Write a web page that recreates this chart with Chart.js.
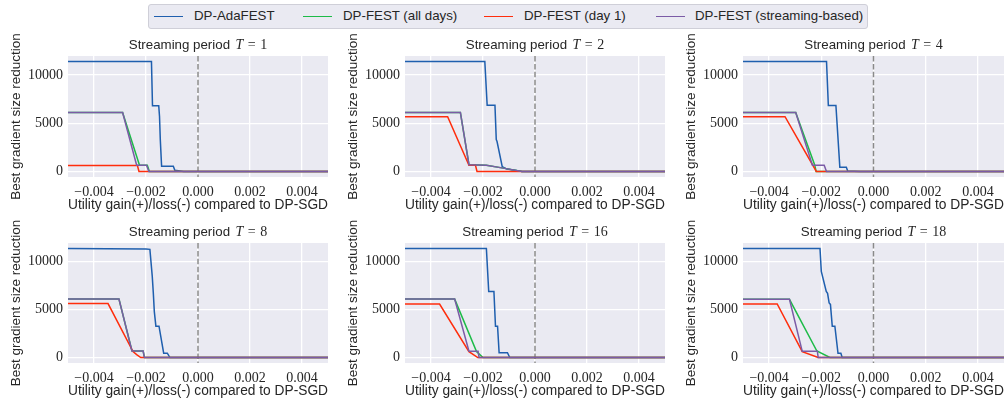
<!DOCTYPE html>
<html>
<head>
<meta charset="utf-8">
<script src="https://cdn.jsdelivr.net/npm/chart.js@4.4.1/dist/chart.umd.min.js"></script>
<style>
body { margin: 0; background: #fff; width: 1006px; height: 403px; position: relative; overflow: hidden; font-family: "Liberation Sans", Arial, sans-serif; }
canvas { position: absolute; }
#legend { position: absolute; left: 148px; top: 4px; width: 720px; height: 25px; background: #eaeaf2; border: 1px solid #cfcfd8; border-radius: 3px; box-sizing: border-box; }
.sw { position: absolute; top: 11px; width: 29px; height: 0; border-top: 1.5px solid; }
.lb { position: absolute; top: 3px; font-size: 13.3px; line-height: 16px; color: #262626; white-space: nowrap; }
</style>
</head>
<body>
<div id="legend"></div>
<script>
// streaming periods, one panel each
var periods = [1, 2, 4, 8, 16, 18];
var seriesNames = ['DP-AdaFEST', 'DP-FEST (all days)', 'DP-FEST (day 1)', 'DP-FEST (streaming-based)'];
var seriesColors = ['#1f5fae', '#1dbb48', '#ff2d0c', '#7b5ba6'];
var xTicks = [-0.004, -0.002, 0, 0.002, 0.004];
var yTicks = [0, 5000, 10000];
var xLabel = 'Utility gain(+)/loss(-) compared to DP-SGD';
var yLabel = 'Best gradient size reduction';

// [utility gain, best gradient size reduction] per period
var adaFest = [
  [[-0.005,11390],[-0.00179,11390],[-0.00175,6800],[-0.00151,6800],[-0.00148,5700],[-0.00145,3300],[-0.0014,550],[-0.00095,550],[-0.00089,120],[-0.00055,0],[0.005,0]],
  [[-0.005,11390],[-0.00193,11390],[-0.00184,6850],[-0.00154,6850],[-0.00149,3300],[-0.00146,3100],[-0.00126,500],[-0.00108,250],[-0.0005,0],[0.005,0]],
  [[-0.005,11390],[-0.0018,11390],[-0.00173,6830],[-0.00144,6830],[-0.00129,450],[-0.00104,450],[-0.00099,60],[-0.0005,0],[0.005,0]],
  [[-0.005,11390],[-0.002,11340],[-0.00185,11300],[-0.00176,8500],[-0.00172,6800],[-0.00168,4800],[-0.00162,3280],[-0.0015,3280],[-0.00132,450],[-0.00118,450],[-0.00108,0],[0.005,0]],
  [[-0.005,11390],[-0.00187,11390],[-0.00178,6900],[-0.00158,6900],[-0.00152,3280],[-0.00144,3280],[-0.00138,500],[-0.00106,500],[-0.00097,0],[0.005,0]],
  [[-0.005,11390],[-0.00205,11390],[-0.002,9000],[-0.00181,6900],[-0.00176,6700],[-0.0017,5700],[-0.00165,5550],[-0.00158,3280],[-0.00148,3280],[-0.00136,450],[-0.00125,450],[-0.0012,0],[0.005,0]]
];
var allDays = [
  [[-0.005,6110],[-0.0029,6110],[-0.00225,650],[-0.00195,650],[-0.00187,0],[0.005,0]],
  [[-0.005,6110],[-0.00287,6110],[-0.00254,700],[-0.00187,650],[-0.00122,350],[-0.0005,0],[0.005,0]],
  [[-0.005,6110],[-0.00298,6110],[-0.00225,650],[-0.0022,0],[0.005,0]],
  [[-0.005,6110],[-0.00304,6110],[-0.00254,680],[-0.00211,680],[-0.00206,0],[0.005,0]],
  [[-0.005,6100],[-0.00309,6100],[-0.00225,620],[-0.002,0],[0.005,0]],
  [[-0.005,6080],[-0.00322,6080],[-0.00217,680],[-0.00167,0],[0.005,0]]
];
var dayOne = [
  [[-0.005,625],[-0.00233,625],[-0.00227,0],[0.005,0]],
  [[-0.005,5680],[-0.00336,5680],[-0.00254,650],[-0.00229,650],[-0.00223,0],[0.005,0]],
  [[-0.005,5680],[-0.00339,5680],[-0.00219,0],[0.005,0]],
  [[-0.005,5630],[-0.00346,5630],[-0.0025,620],[-0.00236,300],[-0.0022,0],[0.005,0]],
  [[-0.005,5590],[-0.00367,5590],[-0.00254,620],[-0.0022,0],[0.005,0]],
  [[-0.005,5590],[-0.00369,5590],[-0.00273,620],[-0.00212,0],[0.005,0]]
];
var streaming = [
  [[-0.005,6110],[-0.0029,6110],[-0.00236,650],[-0.00198,650],[-0.00189,0],[0.005,0]],
  [[-0.005,6110],[-0.00287,6110],[-0.00254,700],[-0.00187,650],[-0.00122,350],[-0.0005,0],[0.005,0]],
  [[-0.005,6110],[-0.00298,6110],[-0.00234,650],[-0.00189,650],[-0.0018,0],[0.005,0]],
  [[-0.005,6110],[-0.00304,6110],[-0.00254,680],[-0.00211,680],[-0.00206,0],[0.005,0]],
  [[-0.005,6100],[-0.00309,6100],[-0.00254,650],[-0.00219,650],[-0.00215,0],[0.005,0]],
  [[-0.005,6080],[-0.00322,6080],[-0.00273,650],[-0.00215,650],[-0.00212,0],[0.005,0]]
];
var allSeries = [adaFest, allDays, dayOne, streaming];

// layout of the 2x3 grid (plot areas in page pixels)
var colLeft = [68, 405, 743], colRight = [328, 665, 1004];
var rowTop = [56, 243], rowBottom = [177, 363];
var TXT = '#262626';

function fmtX(v) {
  if (Math.abs(v) < 1e-12) return '0.000';
  return (v < 0 ? '\u2212' : '') + Math.abs(v).toFixed(3);
}

var panelDecor = {
  id: 'panelDecor',
  beforeDraw: function(chart) {
    var a = chart.chartArea, ctx = chart.ctx;
    ctx.save();
    ctx.fillStyle = '#eaeaf2';
    ctx.fillRect(a.left, a.top, a.right - a.left, a.bottom - a.top);
    ctx.restore();
  },
  beforeDatasetsDraw: function(chart) {
    var a = chart.chartArea, ctx = chart.ctx;
    var px = chart.scales.x.getPixelForValue(0);
    ctx.save();
    ctx.strokeStyle = '#8a8a8a';
    ctx.lineWidth = 1.5;
    ctx.setLineDash([5.5, 2.4]);
    ctx.beginPath();
    ctx.moveTo(px, a.top);
    ctx.lineTo(px, a.bottom);
    ctx.stroke();
    ctx.restore();
  },
  afterDraw: function(chart) {
    var a = chart.chartArea, ctx = chart.ctx;
    var T = chart.options.plugins.panelDecor.period;
    var parts = [
      { t: 'Streaming period', f: '13.3px "Liberation Sans"', g: 5.5 },
      { t: 'T', f: 'italic 14px "Liberation Serif"', g: 4.5 },
      { t: '=', f: '14px "Liberation Serif"', g: 4.5 },
      { t: String(T), f: '14px "Liberation Serif"', g: 0 }
    ];
    ctx.save();
    var total = 0;
    parts.forEach(function(p) { ctx.font = p.f; p.w = ctx.measureText(p.t).width; total += p.w + p.g; });
    var x = (a.left + a.right) / 2 - total / 2;
    var y = a.top - 11;
    ctx.fillStyle = TXT;
    ctx.textBaseline = 'middle';
    ctx.textAlign = 'left';
    parts.forEach(function(p) { ctx.font = p.f; ctx.fillText(p.t, x, y); x += p.w + p.g; });
    ctx.restore();
  }
};

function makePanel(i) {
  var col = i % 3, row = Math.floor(i / 3);
  var w = colRight[col] - colLeft[col] + 70;
  var h = rowBottom[row] - rowTop[row] + 62;
  var canvas = document.createElement('canvas');
  canvas.width = w; canvas.height = h;
  canvas.style.left = (colLeft[col] - 68) + 'px';
  canvas.style.top = (rowTop[row] - 26) + 'px';
  canvas.style.width = w + 'px'; canvas.style.height = h + 'px';
  document.body.appendChild(canvas);

  var datasets = allSeries.map(function(s, k) {
    return {
      label: seriesNames[k],
      data: s[i].map(function(p) { return { x: p[0], y: p[1] }; }),
      borderColor: seriesColors[k],
      borderWidth: 1.5,
      pointRadius: 0,
      fill: false,
      tension: 0,
      order: 4 - k
    };
  });

  new Chart(canvas, {
    type: 'line',
    data: { datasets: datasets },
    plugins: [panelDecor],
    options: {
      responsive: false,
      animation: false,
      devicePixelRatio: 1,
      layout: { padding: { top: 26, right: 2, left: 0, bottom: 0 } },
      plugins: { legend: { display: false }, tooltip: { enabled: false }, panelDecor: { period: periods[i] } },
      scales: {
        x: {
          type: 'linear', min: -0.005, max: 0.005,
          afterBuildTicks: function(s) { s.ticks = xTicks.map(function(v) { return { value: v }; }); },
          afterFit: function(s) { s.height = 36; },
          grid: { color: '#ffffff', lineWidth: 1.3, drawTicks: false },
          border: { display: false },
          ticks: { padding: 7, color: TXT, font: { family: 'Liberation Serif', size: 14 }, maxRotation: 0, callback: function(v) { return fmtX(v); } },
          title: { display: true, text: xLabel, color: TXT, font: { family: 'Liberation Sans', size: 13.8 }, padding: { top: 0, bottom: 0 } }
        },
        y: {
          type: 'linear', min: -570, max: 11960,
          afterBuildTicks: function(s) { s.ticks = yTicks.map(function(v) { return { value: v }; }); },
          afterFit: function(s) { s.width = 68; },
          grid: { color: '#ffffff', lineWidth: 1.3, drawTicks: false },
          border: { display: false },
          ticks: { padding: 5, color: TXT, font: { family: 'Liberation Serif', size: 14 }, callback: function(v) { return String(v); } },
          title: { display: true, text: yLabel, color: TXT, font: { family: 'Liberation Sans', size: 13.5 }, padding: { top: 8, bottom: 0 } }
        }
      }
    }
  });
}

periods.forEach(function(p, i) { makePanel(i); });

// shared legend
var legend = document.getElementById('legend');
var swLeft = [5, 154, 335, 507], lbLeft = [45, 194, 375, 546];
seriesNames.forEach(function(name, k) {
  var sw = document.createElement('div');
  sw.className = 'sw';
  sw.style.left = swLeft[k] + 'px';
  sw.style.borderTopColor = seriesColors[k];
  legend.appendChild(sw);
  var lb = document.createElement('div');
  lb.className = 'lb';
  lb.style.left = lbLeft[k] + 'px';
  lb.textContent = name;
  legend.appendChild(lb);
});
</script>
</body>
</html>
